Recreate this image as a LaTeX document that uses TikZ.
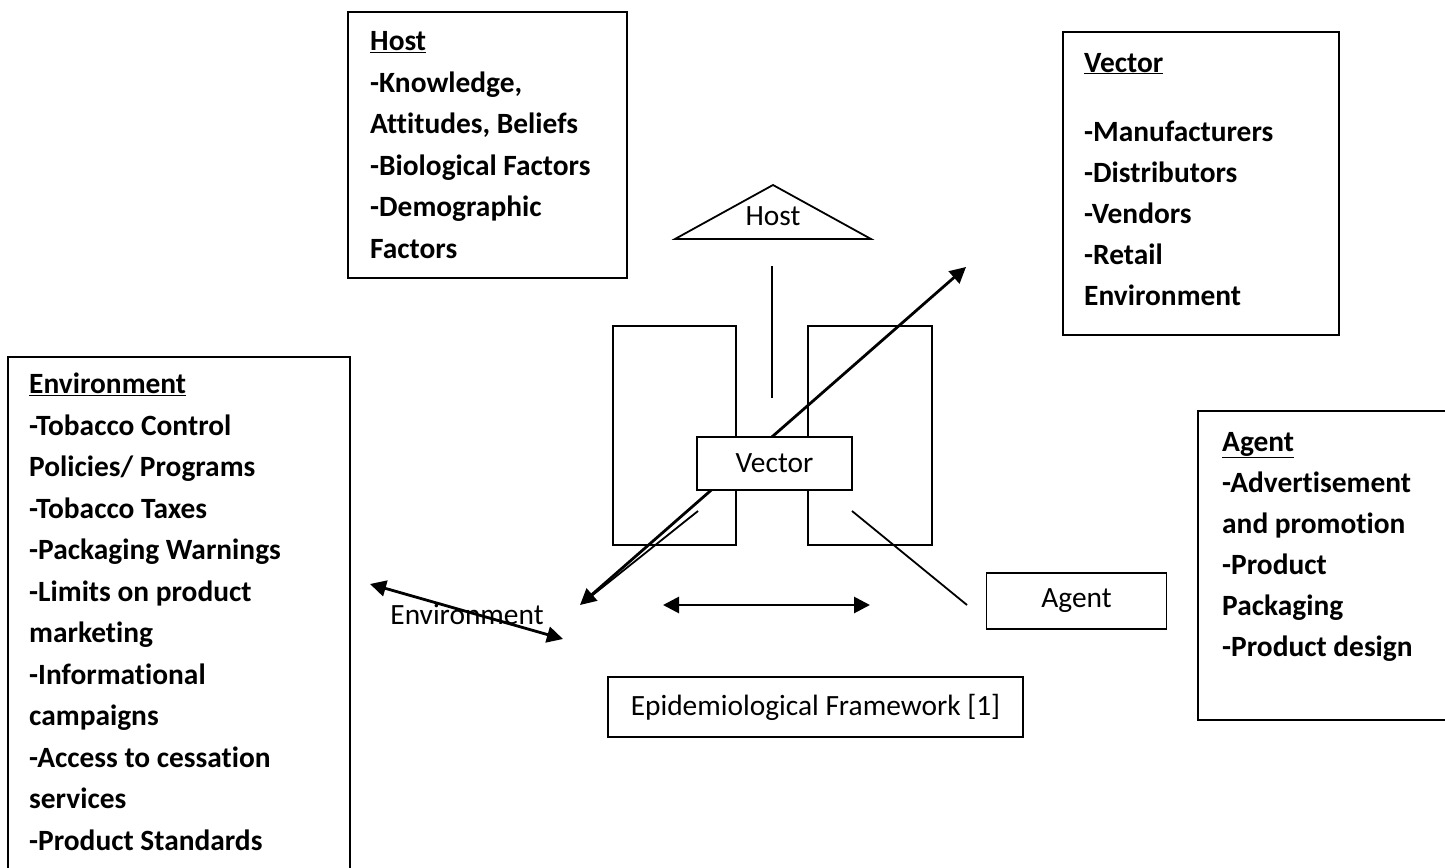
\documentclass[tikz,border=0pt]{standalone}
\usepackage{fontspec}
\setmainfont[Ligatures=CommonOff]{Carlito}
\usetikzlibrary{arrows.meta}
\begin{document}
\begin{tikzpicture}[x=1pt,y=-1pt,
  frame/.style={draw, line width=1.8pt, inner sep=0pt},
  info/.style={anchor=base west, inner sep=0pt, align=left, font=\fontsize{29.4}{41.5}\selectfont\bfseries},
  lbl/.style={font=\fontsize{29.4}{34}\selectfont, inner sep=0pt},
  tip/.tip={Triangle[length=16pt,width=16pt]},
  dbl/.style={line width=2.8pt, tip-tip},
  thinline/.style={line width=1.8pt}]
\clip (0,0) rectangle (1445,867);
% info boxes (text anchored at the baseline of the last line)
\node[frame, minimum width=279pt, minimum height=266pt] (hostbox) at (487.5,145) {};
\node[info] (hosttext) at (370,258) {\underline{Host}\\-Knowledge,\\Attitudes, Beliefs\\-Biological Factors\\-Demographic\\Factors};
\node[frame, minimum width=276pt, minimum height=303pt] (vecbox) at (1201,183.5) {};
\node[info, font=\fontsize{29.4}{40.8}\selectfont\bfseries] (vectext) at (1084,305) {\underline{Vector}\\[29pt]-Manufacturers\\-Distributors\\-Vendors\\-Retail\\Environment};
\node[frame, minimum width=342pt, minimum height=540pt] (envbox) at (179,627) {};
\node[info] (envtext) at (29,850) {\underline{Environment}\\-Tobacco Control\\Policies/ Programs\\-Tobacco Taxes\\-Packaging Warnings\\-Limits on product\\marketing\\-Informational\\campaigns\\-Access to cessation\\services\\-Product Standards};
\node[frame, minimum width=260pt, minimum height=309pt] (agentbox) at (1328,565.5) {};
\node[info, font=\fontsize{29.4}{41}\selectfont\bfseries] (agenttext) at (1222,656) {\underline{Agent}\\-Advertisement\\and promotion\\-Product\\Packaging\\-Product design};
% central framework
\coordinate (tl) at (675,239);
\coordinate (tt) at (773,185);
\coordinate (tr) at (871,239);
\draw[thinline] (tl) -- (tt) -- (tr) -- cycle;
\node[lbl] (host) at (773,216) {Host};
\coordinate (hl1) at (772,266);
\coordinate (hl2) at (772,398);
\draw[thinline] (hl1) -- (hl2);
\node[frame, minimum width=123pt, minimum height=219pt] (leftrect) at (674.5,435.5) {};
\node[frame, minimum width=124pt, minimum height=219pt] (rightrect) at (870,435.5) {};
\coordinate (d1) at (580,605);
\coordinate (d2) at (966,267);
\draw[dbl] (d1) -- (d2);
\node[frame, fill=white, minimum width=155pt, minimum height=53pt, font=\fontsize{29.4}{34}\selectfont] (vector) at (774.5,463.5) {Vector};
\coordinate (s1) at (698,511);
\coordinate (s2) at (589,598);
\draw[thinline] (s1) -- (s2);
\coordinate (r1) at (852,511);
\coordinate (r2) at (967,605);
\draw[thinline] (r1) -- (r2);
\coordinate (h1) at (663,605);
\coordinate (h2) at (870,605);
\draw[dbl] (h1) -- (h2);
\node[frame, minimum width=180pt, minimum height=56pt, font=\fontsize{29.4}{34}\selectfont] (agent) at (1076.5,601) {Agent};
\node[lbl] (environment) at (467,614) {Environment};
\coordinate (e1) at (370,584);
\coordinate (e2) at (563,639);
\draw[dbl] (e1) -- (e2);
\node[frame, minimum width=415pt, minimum height=60pt, font=\fontsize{29.4}{34}\selectfont] (epi) at (815.5,707) {Epidemiological Framework [1]};
\end{tikzpicture}
\end{document}
